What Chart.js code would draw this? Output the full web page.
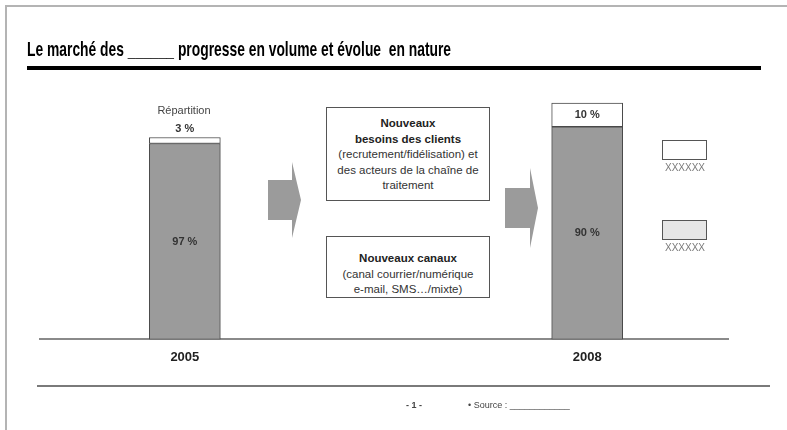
<!DOCTYPE html>
<html lang="fr">
<head>
<meta charset="utf-8">
<title>Le marché des ______ progresse en volume et évolue en nature</title>
<script src="https://cdn.jsdelivr.net/npm/chart.js@4.4.1/dist/chart.umd.min.js"></script>
<style>
  html, body { margin: 0; padding: 0; background: #fff; }
  #page { position: relative; width: 787px; height: 430px; overflow: hidden;
          font-family: "Liberation Sans", Arial, sans-serif; color: #333; }
  #chart-wrap { position: absolute; left: 0; top: 0; width: 787px; height: 430px; }
  .abs { position: absolute; }
  #frame { left: 5px; top: 5px; width: 800px; height: 440px;
           border-left: 2px solid #b4b4b4; border-top: 2px solid #b4b4b4; }
  #title { left: 27px; top: 37px; font-family: "Liberation Sans Narrow", "Liberation Sans", Arial, sans-serif;
           font-weight: bold; font-size: 21px; color: #000; white-space: pre; transform-origin: 0 0; }
  #title-rule { left: 27px; top: 66px; width: 734px; height: 4px; background: #000; }
  #repartition { left: 134px; width: 100px; top: 104px; text-align: center; font-size: 11px; color: #444; }
  .arrow { left: 0; top: 0; }
  .note { left: 326px; width: 164px; border: 1px solid #555; background: #fff; box-sizing: border-box;
          text-align: center; font-size: 11.5px; line-height: 15.5px; color: #333; }
  .note b { color: #222; }
  #note1 { top: 107px; height: 94px; padding-top: 8px; }
  #note2 { top: 236px; height: 62px; padding-top: 14px; }
  .key { left: 662px; width: 45px; height: 20px; border: 1.5px solid #555; box-sizing: border-box; }
  .key-label { left: 652px; width: 66px; text-align: center; font-size: 10px; color: #7a7a7a; }
  #foot-rule { left: 37px; top: 385px; width: 733px; height: 2px; background: #7a7a7a; }
  #page-num { left: 406px; top: 400px; font-size: 9px; font-weight: bold; color: #444; }
  #source { left: 468px; top: 400px; font-size: 9px; color: #444; }
</style>
</head>
<body>
<div id="page">
  <div id="chart-wrap"><canvas id="marketChart"></canvas></div>

  <div id="frame" class="abs"></div>
  <div id="title" class="abs">Le marché des ______ progresse en volume et évolue  en nature</div>
  <div id="title-rule" class="abs"></div>

  <div id="repartition" class="abs">Répartition</div>

  <svg class="abs arrow" width="787" height="430">
    <polygon points="268,180 292,180 292,162 301,200 292,238 292,220 268,220" fill="#9b9b9b"/>
    <polygon points="505,188 530,188 530,168 538,208 530,248 530,228 505,228" fill="#9b9b9b"/>
  </svg>

  <div id="note1" class="abs note"><b>Nouveaux<br>besoins des clients</b><br>(recrutement/fidélisation) et<br>des acteurs de la chaîne de<br>traitement</div>
  <div id="note2" class="abs note"><b>Nouveaux canaux</b><br>(canal courrier/numérique<br>e-mail, SMS…/mixte)</div>

  <div id="legend"></div>

  <div id="foot-rule" class="abs"></div>
  <div id="page-num" class="abs">- 1 -</div>
  <div id="source" class="abs">• Source : ____________</div>
</div>

<script>
// Années et répartition du marché (%)
const years = [2005, 2008];
const shareExisting = [97, 90];
const shareNew = [3, 10];
// Volume total du marché, base 100 en 2005
const volumeIndex = [100, 117];
// Légende
const legendLabels = ['XXXXXX', 'XXXXXX'];
const legendColors = ['#ffffff', '#e6e6e6'];

const FONT = '"Liberation Sans", Arial, sans-serif';

// fit the condensed title to its line
const title = document.getElementById('title');
title.style.transform = 'scaleX(' + (424 / title.scrollWidth) + ')';

// legend boxes on the right
const legend = document.getElementById('legend');
legendLabels.forEach(function (label, i) {
    const top = 140 + i * 80;
    const box = document.createElement('div');
    box.className = 'abs key';
    box.style.top = top + 'px';
    box.style.background = legendColors[i];
    legend.appendChild(box);
    const txt = document.createElement('div');
    txt.className = 'abs key-label';
    txt.style.top = (top + 22) + 'px';
    txt.textContent = label;
    legend.appendChild(txt);
});

function segment(shares, i) {
    return { x: years[i], y: shares[i] * volumeIndex[i] / 100, share: shares[i] };
}

// percentage written inside each segment (above the bar when too thin)
const segmentLabels = {
    id: 'segmentLabels',
    afterDatasetsDraw: function (chart) {
        const ctx = chart.ctx;
        ctx.save();
        ctx.font = 'bold 11px ' + FONT;
        ctx.fillStyle = '#333';
        ctx.textAlign = 'center';
        ctx.textBaseline = 'middle';
        chart.data.datasets.forEach(function (ds, di) {
            chart.getDatasetMeta(di).data.forEach(function (bar, i) {
                const h = bar.base - bar.y;
                const y = h >= 16 ? bar.y + h / 2 : bar.y - 9;
                ctx.fillText(ds.data[i].share + ' %', bar.x, y);
            });
        });
        ctx.restore();
    }
};

new Chart(document.getElementById('marketChart'), {
    type: 'bar',
    data: {
        datasets: [
            {
                label: legendLabels[1],
                data: years.map(function (y, i) { return segment(shareExisting, i); }),
                backgroundColor: '#9b9b9b',
                borderColor: '#4a4a4a',
                borderWidth: 1,
                borderSkipped: false,
                barThickness: 71
            },
            {
                label: legendLabels[0],
                data: years.map(function (y, i) { return segment(shareNew, i); }),
                backgroundColor: '#ffffff',
                borderColor: '#4a4a4a',
                borderWidth: 1,
                borderSkipped: false,
                barThickness: 71
            }
        ]
    },
    options: {
        responsive: true,
        maintainAspectRatio: false,
        animation: false,
        layout: { padding: { left: 40, right: 59, top: 87, bottom: 55 } },
        plugins: { legend: { display: false }, tooltip: { enabled: false } },
        scales: {
            x: {
                type: 'linear',
                min: 2003.92,
                max: 2009.05,
                offset: false,
                stacked: true,
                grid: { display: false, drawTicks: false, offset: false },
                border: { display: true, color: '#8a8a8a', width: 2 },
                afterBuildTicks: function (scale) {
                    scale.ticks = years.map(function (v) { return { value: v }; });
                },
                ticks: {
                    padding: 10,
                    autoSkip: false,
                    maxRotation: 0,
                    color: '#222',
                    font: { family: FONT, size: 13, weight: 'bold' },
                    callback: function (v) { return String(v); }
                }
            },
            y: { display: false, stacked: true, min: 0, max: 125 }
        }
    },
    plugins: [segmentLabels]
});
</script>
</body>
</html>
